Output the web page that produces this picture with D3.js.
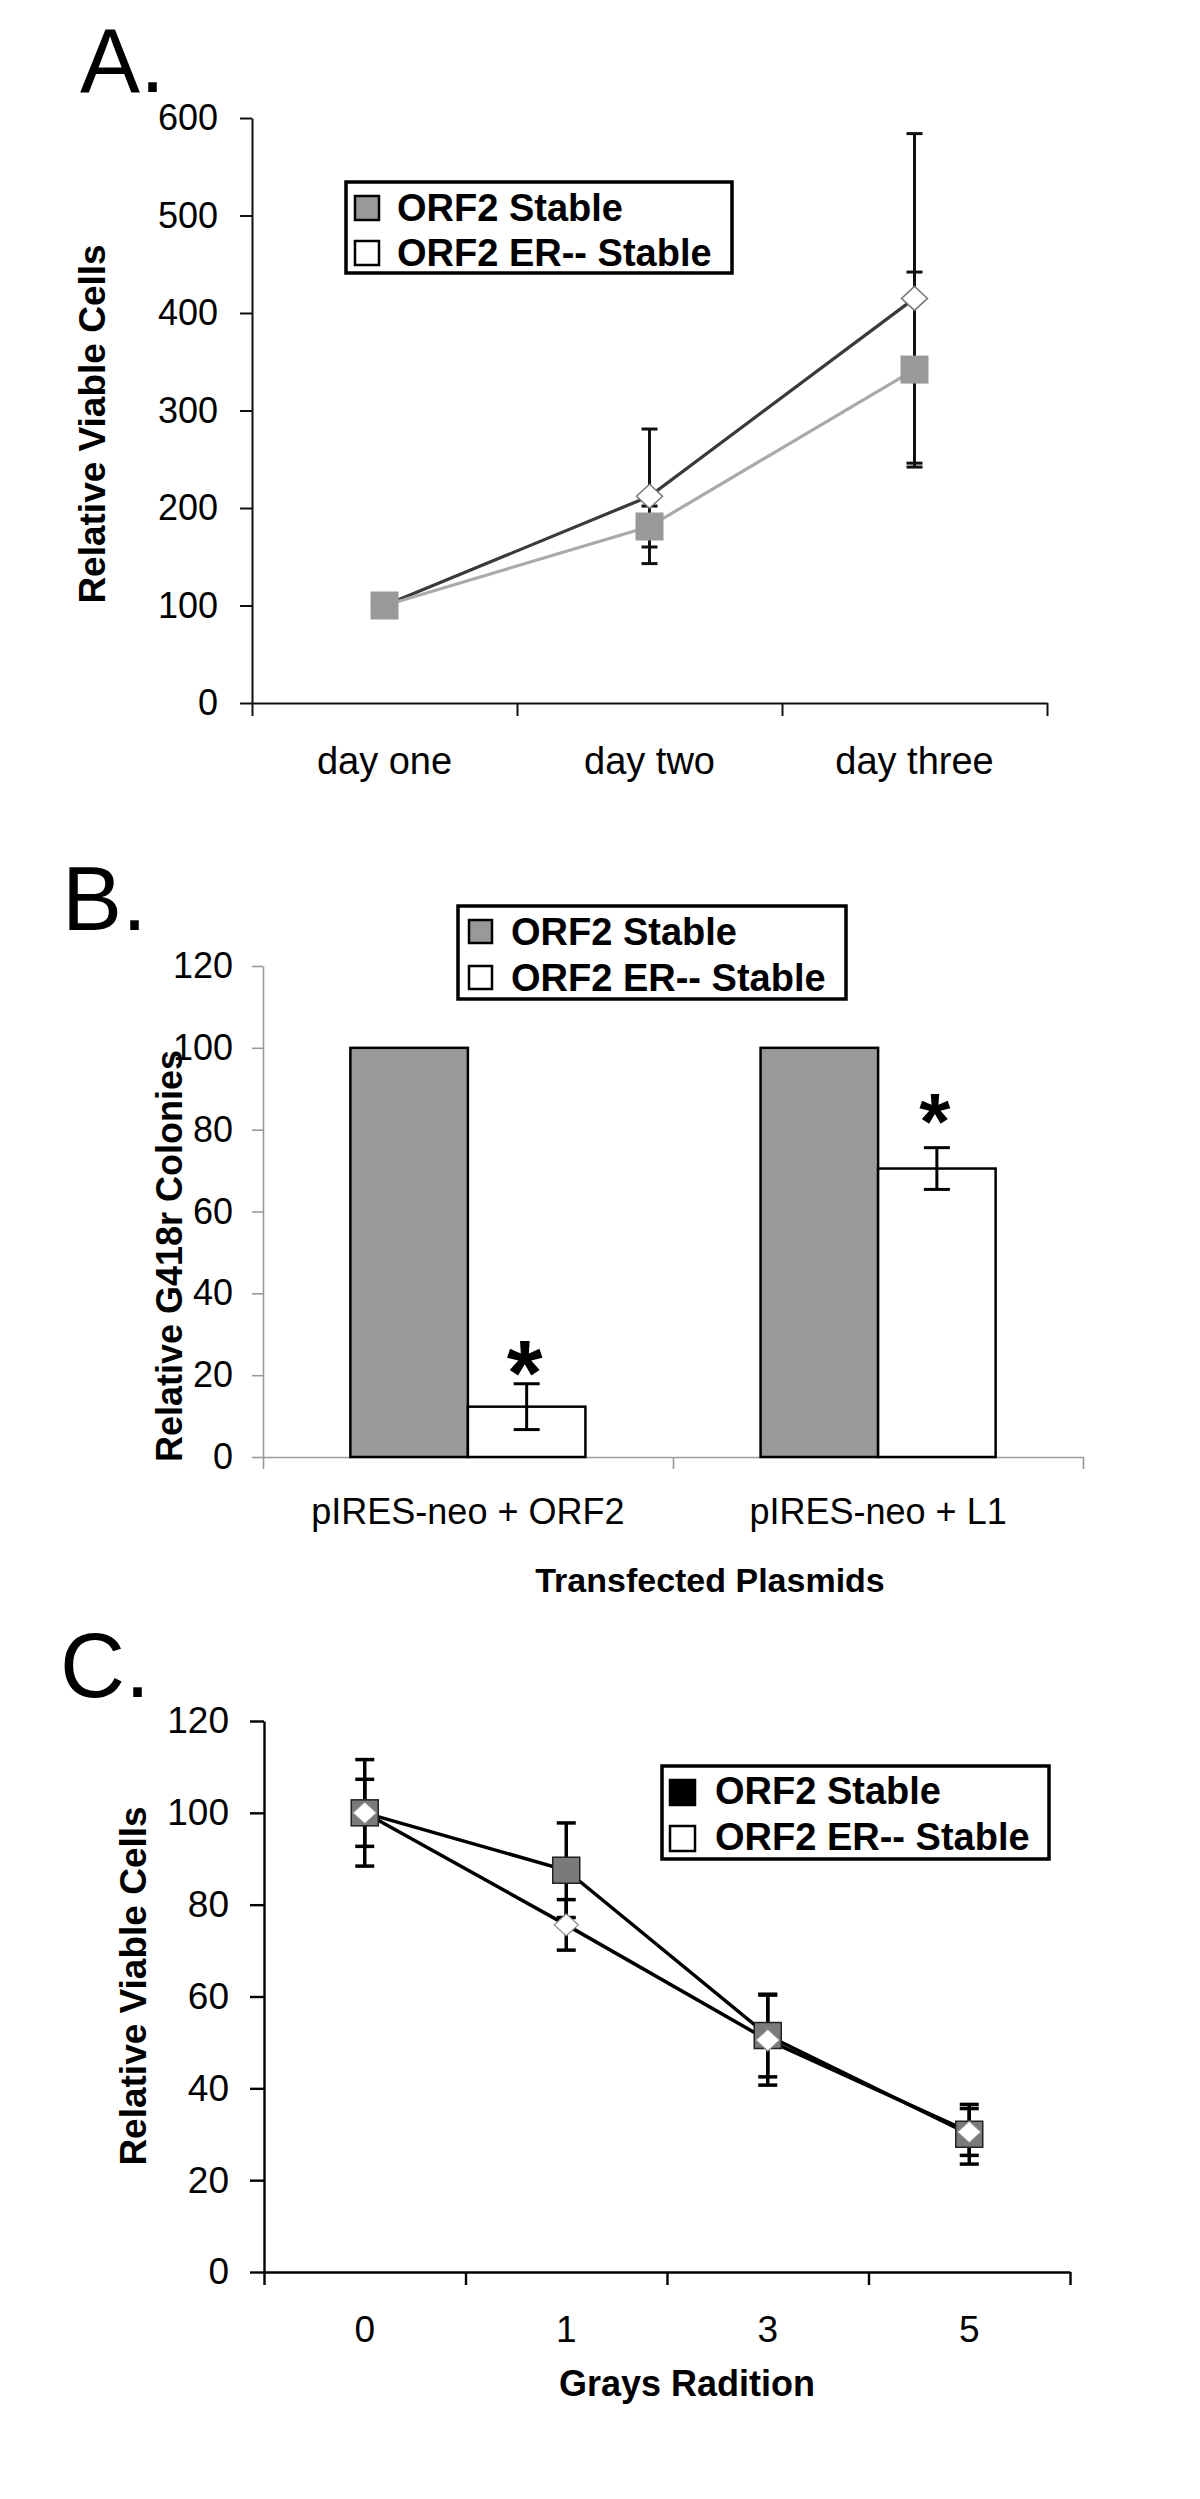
<!DOCTYPE html>
<html>
<head>
<meta charset="utf-8">
<script src="https://cdn.jsdelivr.net/npm/d3@7"></script>
<style>
  html, body { margin: 0; padding: 0; background: #fff; }
  svg { display: block; }
  text { font-family: "Liberation Sans", Arial, sans-serif; }
</style>
</head>
<body>
<svg id="fig" width="1200" height="2499"></svg>
<script>
// ---------------- DATA ----------------
// Panel A
const daysA = ["day one", "day two", "day three"];
const orf2A = [100, 181, 342];
const orf2ErrA = [0, 21, 100];
const erA = [100, 212, 415];
const erErrA = [0, 69, 169];
const yTicksA = [0, 100, 200, 300, 400, 500, 600];

// Panel B
const plasmidsB = ["pIRES-neo + ORF2", "pIRES-neo + L1"];
const orf2B = [100, 100];
const erB = [12.3, 70.5];
const erErrB = [5.6, 5.1];
const starsB = ["*", "*"];
const yTicksB = [0, 20, 40, 60, 80, 100, 120];

// Panel C
const graysC = ["0", "1", "3", "5"];
const orf2C = [100, 87.5, 51.5, 30];
const orf2ErrC = [11.6, 10.3, 9, 6.5];
const erC = [100, 75.6, 50.5, 30.5];
const erErrC = [7.3, 5.5, 9.8, 5.1];
const yTicksC = [0, 20, 40, 60, 80, 100, 120];

const seriesNames = ["ORF2 Stable", "ORF2 ER-- Stable"];

// ---------------- HELPERS ----------------
const svg = d3.select("#fig");
svg.append("rect").attr("width", 1200).attr("height", 2499).attr("fill", "#fff");
const FONT = '"Liberation Sans", Arial, sans-serif';

function diamondPath(w, h) {
  return `M0,${-h}L${w},0L0,${h}L${-w},0Z`;
}
function styleAxis(g, color, width, fontSize) {
  g.selectAll("path.domain").attr("stroke", color).attr("stroke-width", width);
  g.selectAll(".tick line").attr("stroke", color).attr("stroke-width", width);
  g.selectAll(".tick text").attr("fill", "#000").style("font-size", fontSize + "px").style("font-family", FONT);
}
function panelLabel(txt, x, y) {
  svg.append("text").attr("x", x).attr("y", y).text(txt)
    .style("font-size", "90px").attr("fill", "#000");
}
function yTitle(txt, x, y, size) {
  svg.append("text").attr("transform", `translate(${x},${y}) rotate(-90)`)
    .attr("text-anchor", "middle").style("font-size", size + "px").style("font-weight", "bold")
    .text(txt);
}
function legend(x, y, w, h, swatchFills, swatchX, textX, baselines, swatchYs, swSize) {
  const g = svg.append("g");
  g.append("rect").attr("x", x).attr("y", y).attr("width", w).attr("height", h)
    .attr("fill", "#fff").attr("stroke", "#000").attr("stroke-width", 3.5);
  seriesNames.forEach((n, i) => {
    g.append("rect").attr("x", swatchX).attr("y", swatchYs[i])
      .attr("width", swSize).attr("height", swSize)
      .attr("fill", swatchFills[i]).attr("stroke", "#000").attr("stroke-width", 2.5);
    g.append("text").attr("x", textX).attr("y", baselines[i]).text(n)
      .style("font-size", "38px").style("font-weight", "bold");
  });
}

// ---------------- PANEL A ----------------
(function () {
  const x0 = 252, x1 = 1047, yTop = 118, yBot = 703;
  const xA = d3.scaleBand().domain(daysA).range([x0, x1]);
  const xEdge = d3.scaleLinear().domain([0, daysA.length]).range([x0, x1]);
  const yA = d3.scaleLinear().domain([0, 600]).range([yBot, yTop]);
  const cx = d => xA(d) + xA.bandwidth() / 2;

  panelLabel("A.", 80, 92);

  const gy = svg.append("g").attr("transform", `translate(${x0},0)`)
    .call(d3.axisLeft(yA).tickValues(yTicksA).tickSize(12).tickSizeOuter(0).tickPadding(22));
  styleAxis(gy, "#111", 2, 36);
  const gx = svg.append("g").attr("transform", `translate(0,${yBot})`)
    .call(d3.axisBottom(xEdge).ticks(daysA.length).tickSize(13).tickSizeOuter(0).tickFormat(""));
  styleAxis(gx, "#111", 2, 36);

  svg.append("g").selectAll("text").data(daysA).join("text")
    .attr("x", d => cx(d)).attr("y", 774).attr("text-anchor", "middle")
    .style("font-size", "38px").text(d => d);

  yTitle("Relative Viable Cells", 105, 424, 37);

  const line = d3.line().x((v, i) => cx(daysA[i])).y(v => yA(v));
  svg.append("path").attr("d", line(erA)).attr("fill", "none").attr("stroke", "#3a3a3a").attr("stroke-width", 3.2);
  svg.append("path").attr("d", line(orf2A)).attr("fill", "none").attr("stroke", "#aaaaaa").attr("stroke-width", 3.2);

  // error bars
  const eb = svg.append("g").attr("stroke", "#111").attr("stroke-width", 3);
  function errs(vals, errv) {
    vals.forEach((v, i) => {
      if (!errv[i]) return;
      const x = cx(daysA[i]);
      eb.append("line").attr("x1", x).attr("x2", x).attr("y1", yA(v - errv[i])).attr("y2", yA(v + errv[i]));
      [v - errv[i], v + errv[i]].forEach(e => eb.append("line").attr("x1", x - 8).attr("x2", x + 8).attr("y1", yA(e)).attr("y2", yA(e)));
    });
  }
  errs(erA, erErrA);
  errs(orf2A, orf2ErrA);

  svg.append("g").selectAll("path").data(erA).join("path")
    .attr("transform", (v, i) => `translate(${cx(daysA[i])},${yA(v)})`)
    .attr("d", diamondPath(13, 12)).attr("fill", "#fff").attr("stroke", "#777").attr("stroke-width", 1.5);
  svg.append("g").selectAll("rect").data(orf2A).join("rect")
    .attr("x", (v, i) => cx(daysA[i]) - 14).attr("y", v => yA(v) - 14)
    .attr("width", 28).attr("height", 28).attr("fill", "#999");

  legend(346, 182, 386, 91, ["#999", "#fff"], 355, 397, [221, 266], [196, 241], 24);
})();

// ---------------- PANEL B ----------------
(function () {
  const x0 = 263, x1 = 1083, yTop = 966, yBot = 1457;
  const xB = d3.scaleBand().domain(plasmidsB).range([x0, x1]).paddingInner(0.427).paddingOuter(0.213);
  const xEdge = d3.scaleLinear().domain([0, plasmidsB.length]).range([x0, x1]);
  const sub = d3.scaleBand().domain([0, 1]).range([0, xB.bandwidth()]);
  const yB = d3.scaleLinear().domain([0, 120]).range([yBot, yTop]);

  panelLabel("B.", 62, 930);

  const gy = svg.append("g").attr("transform", `translate(${x0},0)`)
    .call(d3.axisLeft(yB).tickValues(yTicksB).tickSize(11).tickSizeOuter(0).tickPadding(19));
  styleAxis(gy, "#9a9a9a", 1.6, 36);
  const gx = svg.append("g").attr("transform", `translate(0,${yBot})`)
    .call(d3.axisBottom(xEdge).ticks(plasmidsB.length).tickSize(12).tickSizeOuter(0).tickFormat(""));
  styleAxis(gx, "#9a9a9a", 1.6, 36);

  // bars
  svg.append("g").selectAll("rect").data(orf2B).join("rect")
    .attr("x", (v, i) => xB(plasmidsB[i]) + sub(0)).attr("y", v => yB(v))
    .attr("width", sub.bandwidth()).attr("height", v => yBot - yB(v))
    .attr("fill", "#999").attr("stroke", "#000").attr("stroke-width", 2.5);
  svg.append("g").selectAll("rect").data(erB).join("rect")
    .attr("x", (v, i) => xB(plasmidsB[i]) + sub(1)).attr("y", v => yB(v))
    .attr("width", sub.bandwidth()).attr("height", v => yBot - yB(v))
    .attr("fill", "#fff").attr("stroke", "#000").attr("stroke-width", 2.5);

  const eb = svg.append("g").attr("stroke", "#000").attr("stroke-width", 3);
  erB.forEach((v, i) => {
    const x = xB(plasmidsB[i]) + sub(1) + sub.bandwidth() / 2;
    eb.append("line").attr("x1", x).attr("x2", x).attr("y1", yB(v - erErrB[i])).attr("y2", yB(v + erErrB[i]));
    [v - erErrB[i], v + erErrB[i]].forEach(e => eb.append("line").attr("x1", x - 13).attr("x2", x + 13).attr("y1", yB(e)).attr("y2", yB(e)));
  });

  // significance stars
  const starSize = [92, 80], starOff = [21, 1];
  starsB.forEach((s, i) => {
    const x = xB(plasmidsB[i]) + sub(1) + sub.bandwidth() / 2;
    svg.append("text").attr("x", x - 2).attr("y", yB(erB[i] + erErrB[i]) + starOff[i])
      .attr("text-anchor", "middle").style("font-size", starSize[i] + "px").style("font-weight", "bold")
      .text(s);
  });

  svg.append("g").selectAll("text").data(plasmidsB).join("text")
    .attr("x", d => xB(d) + xB.bandwidth() / 2).attr("y", 1524).attr("text-anchor", "middle")
    .style("font-size", "36px").text(d => d);
  svg.append("text").attr("x", 710).attr("y", 1592).attr("text-anchor", "middle")
    .style("font-size", "34px").style("font-weight", "bold").text("Transfected Plasmids");

  yTitle("Relative G418r Colonies", 182, 1256, 36);

  legend(458, 906, 388, 93, ["#999", "#fff"], 469, 511, [945, 991], [920, 966], 23);
})();

// ---------------- PANEL C ----------------
(function () {
  const x0 = 264, x1 = 1070, yTop = 1721, yBot = 2272;
  const xC = d3.scaleBand().domain(graysC).range([x0, x1]);
  const xEdge = d3.scaleLinear().domain([0, graysC.length]).range([x0, x1]);
  const yC = d3.scaleLinear().domain([0, 120]).range([yBot, yTop]);
  const cx = d => xC(d) + xC.bandwidth() / 2;

  panelLabel("C.", 60, 1697);

  const gy = svg.append("g").attr("transform", `translate(${x0},0)`)
    .call(d3.axisLeft(yC).tickValues(yTicksC).tickSize(14).tickSizeOuter(0).tickPadding(21));
  styleAxis(gy, "#000", 2.4, 37);
  const gx = svg.append("g").attr("transform", `translate(0,${yBot})`)
    .call(d3.axisBottom(xEdge).ticks(graysC.length).tickSize(13).tickSizeOuter(0).tickFormat(""));
  styleAxis(gx, "#000", 2.4, 37);

  svg.append("g").selectAll("text").data(graysC).join("text")
    .attr("x", d => cx(d)).attr("y", 2342).attr("text-anchor", "middle")
    .style("font-size", "37px").text(d => d);
  svg.append("text").attr("x", 687).attr("y", 2396).attr("text-anchor", "middle")
    .style("font-size", "36px").style("font-weight", "bold").text("Grays Radition");

  yTitle("Relative Viable Cells", 146, 1986, 37);

  const line = d3.line().x((v, i) => cx(graysC[i])).y(v => yC(v));
  svg.append("path").attr("d", line(orf2C)).attr("fill", "none").attr("stroke", "#000").attr("stroke-width", 3.5);
  svg.append("path").attr("d", line(erC)).attr("fill", "none").attr("stroke", "#000").attr("stroke-width", 3.5);

  const eb = svg.append("g").attr("stroke", "#000").attr("stroke-width", 3.5);
  function errs(vals, errv) {
    vals.forEach((v, i) => {
      const x = cx(graysC[i]);
      eb.append("line").attr("x1", x).attr("x2", x).attr("y1", yC(v - errv[i])).attr("y2", yC(v + errv[i]));
      [v - errv[i], v + errv[i]].forEach(e => eb.append("line").attr("x1", x - 9.5).attr("x2", x + 9.5).attr("y1", yC(e)).attr("y2", yC(e)));
    });
  }
  errs(orf2C, orf2ErrC);
  errs(erC, erErrC);

  svg.append("g").selectAll("rect").data(orf2C).join("rect")
    .attr("x", (v, i) => cx(graysC[i]) - 13.5).attr("y", v => yC(v) - 13)
    .attr("width", 27).attr("height", 26).attr("fill", "#7a7a7a").attr("stroke", "#222").attr("stroke-width", 1.5);
  svg.append("g").selectAll("path").data(erC).join("path")
    .attr("transform", (v, i) => `translate(${cx(graysC[i])},${yC(v)})`)
    .attr("d", diamondPath(12, 11)).attr("fill", "#fff").attr("stroke", "#888").attr("stroke-width", 1.2);

  legend(662, 1766, 387, 93, ["#000", "#fff"], 670, 715, [1804, 1850], [1780, 1826], 25);
})();
</script>
</body>
</html>
